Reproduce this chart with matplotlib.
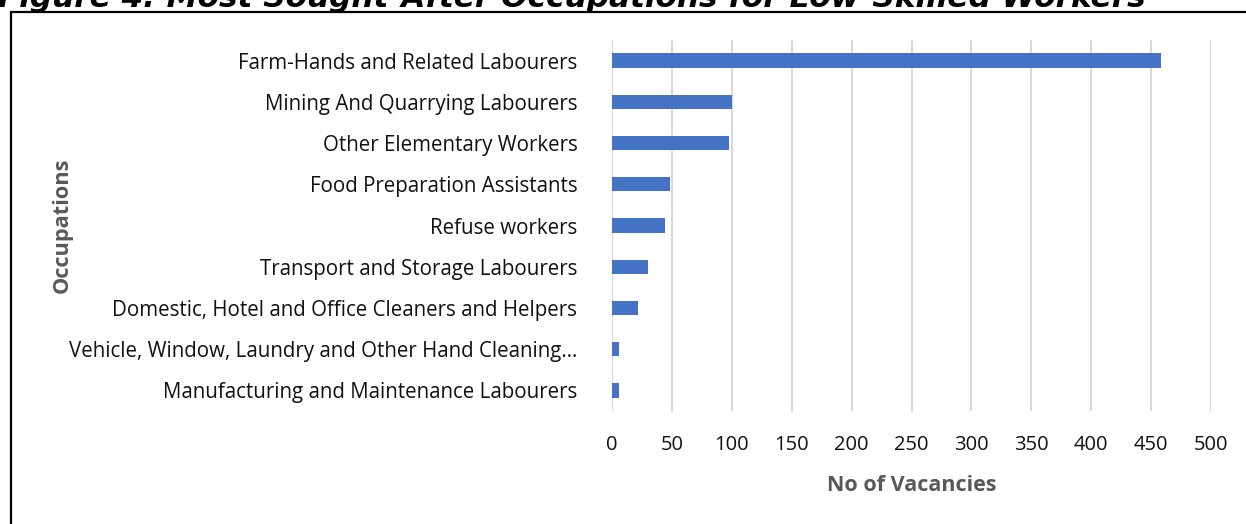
import matplotlib
matplotlib.use("Agg")
import matplotlib.pyplot as plt
from matplotlib.patches import Rectangle

categories = [
    "Farm-Hands and Related Labourers",
    "Mining And Quarrying Labourers",
    "Other Elementary Workers",
    "Food Preparation Assistants",
    "Refuse workers",
    "Transport and Storage Labourers",
    "Domestic, Hotel and Office Cleaners and Helpers",
    "Vehicle, Window, Laundry and Other Hand Cleaning\u2026",
    "Manufacturing and Maintenance Labourers",
]
vacancies = [458, 100, 98, 48, 44, 30, 22, 6, 6]
xticks = [0, 50, 100, 150, 200, 250, 300, 350, 400, 450, 500]

W, H = 1246, 524
fig = plt.figure(figsize=(W / 100, H / 100), dpi=100)
fig.patch.set_facecolor("white")

ax = fig.add_axes([612 / W, 1 - 411 / H, (1211 - 612) / W, (411 - 40) / H])

ypos = list(range(len(categories)))
ax.barh(ypos, vacancies, height=0.35, color="#4472C4", zorder=3)
ax.set_ylim(len(categories) - 0.5, -0.5)
ax.set_xlim(0, 500)
ax.set_xticks(xticks)
ax.set_yticks(ypos)
ax.set_yticklabels(categories, fontsize=14.8, family="Open Sans", color="#111111")
ax.set_xticklabels([str(t) for t in xticks], fontsize=14.5, family="Open Sans", color="#111111")
ax.tick_params(axis="y", length=0, pad=25)
ax.tick_params(axis="x", length=0, pad=17)
ax.grid(axis="x", color="#d9d9d9", linewidth=1.5, zorder=0)
for s in ax.spines.values():
    s.set_visible(False)

ax.set_xlabel("No of Vacancies", fontsize=15.5, fontweight="bold", family="Open Sans",
              color="#595959", labelpad=15)
ax.set_ylabel("Occupations", fontsize=15.7, fontweight="bold", family="Open Sans",
              color="#595959", labelpad=0)
ax.yaxis.set_label_coords((73 - 612) / (1211 - 612), 0.5)

# outer frame
fig.patches.append(Rectangle((11 / W, -0.05), 1.1, 1 - 12 / H + 0.05,
                             transform=fig.transFigure, fill=False,
                             edgecolor="black", linewidth=1.6, clip_on=False))

fig.text(-2 / W, 1 - 7 / H, "Figure 4: Most Sought-After Occupations for Low-Skilled Workers",
         fontsize=22.4, fontweight="bold", fontstyle="italic", family="DejaVu Sans",
         ha="left", va="baseline", color="black")

fig.savefig("out.png", dpi=100)
